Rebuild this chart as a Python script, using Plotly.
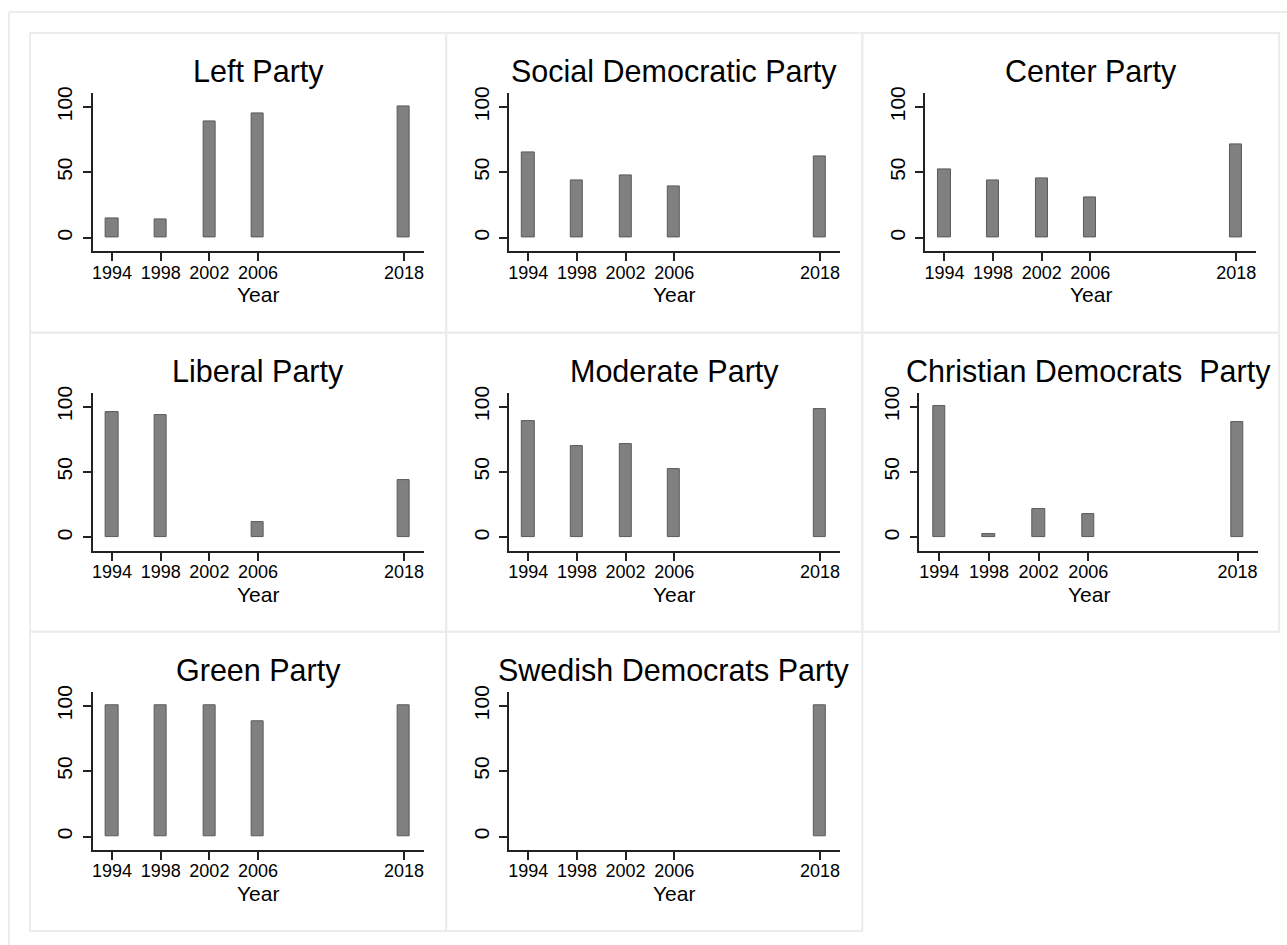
import plotly.graph_objects as go

years = [1994, 1998, 2002, 2006, 2018]
tick_years = [1994, 1998, 2002, 2006, 2018]
y_ticks = [0, 50, 100]
x_title = "Year"

titles = ["Left Party", "Social Democratic Party", "Center Party",
          "Liberal Party", "Moderate Party", "Christian Democrats  Party",
          "Green Party", "Swedish Democrats Party"]

left_party = [15, 14, 89, 95, 100]
social_dem = [65, 44, 48, 39, 62]
center_party = [52, 43.5, 45, 30.5, 71]
liberal_party = [96, 93.5, None, 12, 43.5]
moderate_party = [89, 69.5, 71, 52.5, 98]
christian_dem = [100, 2.5, 22, 17.5, 88.5]
green_party = [100, 100, 100, 88, 100]
swedish_dem = [None, None, None, None, 100]

series = [left_party, social_dem, center_party, liberal_party,
          moderate_party, christian_dem, green_party, swedish_dem]

W, H = 1287, 945
FONT = "Liberation Sans, Arial, Helvetica, sans-serif"

def px(x):
    return x / W

def py(y):
    # screen-pixel y -> paper fraction (compensates the page's vertical placement)
    return 1 - ((y - 6.0) / 0.99364) / H

panel_x = [29, 445.5, 862, 1279]
panel_y = [32, 332, 631.5, 931]

fig = go.Figure()
shapes = []
annotations = []

# outer frame
shapes.append(dict(type="line", xref="paper", yref="paper",
                   x0=px(8), x1=px(1290), y0=py(11), y1=py(11),
                   line=dict(color="#ececec", width=2)))
shapes.append(dict(type="line", xref="paper", yref="paper",
                   x0=px(8), x1=px(8), y0=py(11), y1=py(960),
                   line=dict(color="#ececec", width=2)))

for i, (title, vals) in enumerate(zip(titles, series)):
    r, c = divmod(i, 3)
    ox = panel_x[c]
    oy = panel_y[r]
    shapes.append(dict(type="rect", xref="paper", yref="paper",
                       x0=px(panel_x[c]), x1=px(panel_x[c + 1]),
                       y0=py(panel_y[r]), y1=py(panel_y[r + 1]),
                       line=dict(color="#ececec", width=2), layer="below"))
    if i == 5:
        x0p, x1p = ox + 57, ox + 396
    else:
        x0p, x1p = ox + 62.7, ox + 394.3
    y0p, y1p = oy + 60.5, oy + 218.5
    idx = "" if i == 0 else str(i + 1)
    xa = "xaxis" + idx
    ya = "yaxis" + idx
    fig.add_trace(go.Bar(
        x=years, y=vals, width=1.0,
        marker=dict(color="#808080", line=dict(color="#5a5a5a", width=1)),
        xaxis="x" + idx, yaxis="y" + idx, showlegend=False,
    ))
    fig.layout[xa] = dict(
        domain=[px(x0p), px(x1p)], anchor="y" + idx,
        range=[1992.4, 2019.65], tickmode="array", tickvals=tick_years,
        ticktext=[str(t) for t in tick_years],
        showgrid=False, zeroline=False, showline=True,
        linecolor="#222222", linewidth=1.5,
        ticks="outside", ticklen=8, tickwidth=1.5, tickcolor="#222222",
        ticklabelstandoff=-4,
        tickfont=dict(family=FONT, size=18, color="#000"),
        fixedrange=True,
    )
    fig.layout[ya] = dict(
        domain=[py(y1p), py(y0p)], anchor="x" + idx,
        range=[-10.3, 110.3], tickmode="array", tickvals=y_ticks,
        showgrid=False, zeroline=False, showline=True,
        linecolor="#222222", linewidth=1.5,
        ticks="outside", ticklen=8, tickwidth=1.5, tickcolor="#222222",
        tickangle=-90, ticklabelstandoff=2,
        tickfont=dict(family=FONT, size=21, color="#000"),
        fixedrange=True,
    )
    annotations.append(dict(
        text=title, xref="paper", yref="paper",
        x=px((x0p + x1p) / 2), y=py(oy + 38.5), xanchor="center", yanchor="middle",
        showarrow=False, font=dict(family=FONT, size=30.5, color="#000"),
    ))
    annotations.append(dict(
        text=x_title, xref="paper", yref="paper",
        x=px((x0p + x1p) / 2), y=py(oy + 262), xanchor="center", yanchor="middle",
        showarrow=False, font=dict(family=FONT, size=21, color="#000"),
    ))

fig.update_layout(
    width=W, height=H,
    margin=dict(l=0, r=0, t=0, b=0),
    paper_bgcolor="white", plot_bgcolor="white",
    shapes=shapes, annotations=annotations,
    bargap=0,
)

post = ("document.documentElement.style.margin='0';"
        "document.documentElement.style.overflow='hidden';"
        "document.body.style.margin='0';document.body.style.padding='0';"
        "document.body.style.overflow='hidden';"
        "var d=document.getElementById('{plot_id}');"
        "d.style.position='fixed';d.style.left='0px';d.style.top='0px';")
fig.write_html("out.html", post_script=post, config={"displayModeBar": False})
